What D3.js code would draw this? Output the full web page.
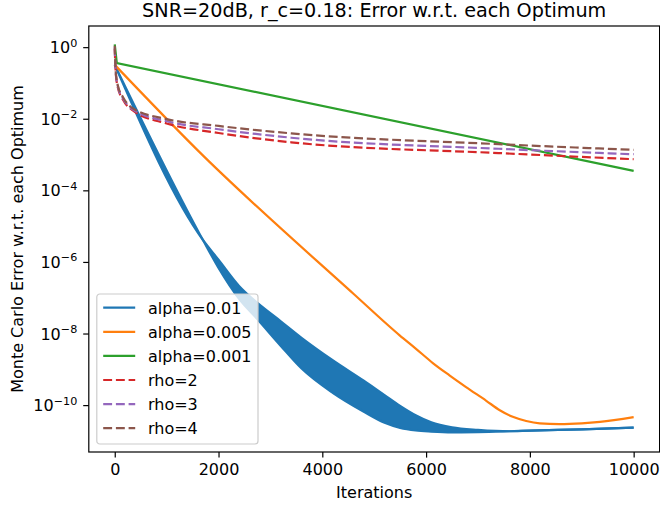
<!DOCTYPE html>
<html>
<head>
<meta charset="utf-8">
<script src="https://cdn.jsdelivr.net/npm/d3@7"></script>
<style>
  body { margin: 0; background: #fff; }
  svg { display: block; font-family: "DejaVu Sans", sans-serif; }
</style>
</head>
<body>
<div id="chart"></div>
<script>
// Tick values
const iterTicks = [0, 2000, 4000, 6000, 8000, 10000];
const errorTickExps = [0, -2, -4, -6, -8, -10];

// Legend labels, in plotting order
const seriesNames = ["alpha=0.01", "alpha=0.005", "alpha=0.001", "rho=2", "rho=3", "rho=4"];

// alpha=0.01 oscillates fast, so it is drawn as a band (upper / lower envelope)
const alpha01Iter  = [0, 1700, 2000, 2400, 2750, 3200, 3600, 4200, 4800, 5200, 5500, 5800, 6100, 6500, 7000, 7600, 8000, 9000, 10000];
const alpha01Upper = [0.32, 4.1e-6, 1.15e-6, 2.1e-7, 7.2e-8, 2.2e-8, 7.6e-9, 1.8e-9, 4.8e-10, 1.9e-10, 9.5e-11, 5.2e-11, 3.3e-11, 2.4e-11, 2.04e-11, 1.86e-11, 1.95e-11, 2.1e-11, 2.35e-11];
const alpha01Lower = [0.32, 4.1e-6, 6.8e-7, 9.1e-8, 2.5e-8, 4.5e-9, 1.05e-9, 2.2e-10, 6.5e-11, 3.2e-11, 2.3e-11, 1.95e-11, 1.82e-11, 1.74e-11, 1.76e-11, 1.86e-11, 1.95e-11, 2.1e-11, 2.35e-11];

const alpha005Iter = [0, 1590, 4600, 5490, 5800, 6130, 6450, 6770, 7160, 7420, 7670, 7930, 8190, 8570, 9000, 9350, 10000];
const alpha005Err  = [0.32, 1.35e-3, 1.29e-7, 8.9e-9, 3.8e-9, 1.5e-9, 6.8e-10, 3.2e-10, 1.32e-10, 7.2e-11, 4.7e-11, 3.6e-11, 3.1e-11, 2.95e-11, 3.1e-11, 3.4e-11, 4.6e-11];

const alpha001Iter = [0, 40, 10000];
const alpha001Err  = [1.2, 0.36, 3.5e-4];

const rhoIter = [0, 20, 60, 160, 360, 1000, 2000, 3400, 7400, 10000];
const rho2Err = [0.9, 0.18, 0.075, 0.034, 0.0166, 7.4e-3, 4.0e-3, 2.2e-3, 1.1e-3, 7.4e-4];
const rho3Err = [1.0, 0.19, 0.08, 0.037, 0.0178, 8.5e-3, 5.1e-3, 2.95e-3, 1.45e-3, 1.02e-3];
const rho4Err = [1.1, 0.2, 0.085, 0.04, 0.019, 9.8e-3, 6.3e-3, 3.9e-3, 1.95e-3, 1.35e-3];

const colors = ["#1f77b4", "#ff7f0e", "#2ca02c", "#d62728", "#9467bd", "#8c564b"];

// Dimensions and margins
const margin = { top: 26, right: 0.4, bottom: 55, left: 88.8 };
const width = 660 - margin.left - margin.right;
const height = 507 - margin.top - margin.bottom;

const svgRoot = d3.select("#chart")
  .append("svg")
  .attr("width", 660)
  .attr("height", 507);

const svg = svgRoot.append("g")
  .attr("transform", `translate(${margin.left},${margin.top})`);

// Scales
const x = d3.scaleLinear().domain([-500, 10500]).range([0, width]);
const y = d3.scaleLog().domain([4.9e-12, 3.9]).range([height, 0]);

svg.append("clipPath")
  .attr("id", "plot-clip")
  .append("rect")
  .attr("width", width)
  .attr("height", height);

const plot = svg.append("g").attr("clip-path", "url(#plot-clip)");

const zip = (iters, vals) => iters.map((it, i) => ({ iter: it, err: vals[i] }));

const line = d3.line()
  .x(d => x(d.iter))
  .y(d => y(d.err))
  .curve(d3.curveMonotoneX);

const straightLine = d3.line()
  .x(d => x(d.iter))
  .y(d => y(d.err));

// alpha=0.01 band
const bandData = alpha01Iter.map((it, i) => ({ iter: it, upper: alpha01Upper[i], lower: alpha01Lower[i] }));
plot.append("path")
  .datum(bandData)
  .attr("fill", colors[0])
  .attr("d", d3.area()
    .x(d => x(d.iter))
    .y0(d => y(d.lower))
    .y1(d => y(d.upper))
    .curve(d3.curveMonotoneX));

[alpha01Upper, alpha01Lower].forEach(vals => {
  plot.append("path")
    .datum(zip(alpha01Iter, vals))
    .attr("fill", "none")
    .attr("stroke", colors[0])
    .attr("stroke-width", 2.2)
    .attr("d", line);
});

// Solid lines
plot.append("path")
  .datum(zip(alpha005Iter, alpha005Err))
  .attr("fill", "none")
  .attr("stroke", colors[1])
  .attr("stroke-width", 2.2)
  .attr("d", line);

plot.append("path")
  .datum(zip(alpha001Iter, alpha001Err))
  .attr("fill", "none")
  .attr("stroke", colors[2])
  .attr("stroke-width", 2.2)
  .attr("d", straightLine);

// Dashed rho lines
[rho2Err, rho3Err, rho4Err].forEach((vals, i) => {
  plot.append("path")
    .datum(zip(rhoIter, vals))
    .attr("fill", "none")
    .attr("stroke", colors[3 + i])
    .attr("stroke-width", 2.2)
    .attr("stroke-dasharray", "8.9,3.8")
    .attr("d", line);
});

// X axis
const xAxis = svg.append("g")
  .attr("transform", `translate(0,${height})`)
  .call(d3.axisBottom(x).tickValues(iterTicks).tickSize(5.6).tickPadding(5.6).tickFormat(d3.format("d")));
xAxis.select(".domain").remove();
xAxis.selectAll("line").attr("stroke", "#000").attr("stroke-width", 1.2);
xAxis.selectAll("text")
  .attr("fill", "#000")
  .style("font-family", "DejaVu Sans")
  .style("font-size", "16px");

// Y axis with 10^n labels
const yAxis = svg.append("g")
  .call(d3.axisLeft(y).tickValues(errorTickExps.map(e => Math.pow(10, e))).tickSize(5.6).tickFormat(""));
yAxis.select(".domain").remove();
yAxis.selectAll("line").attr("stroke", "#000").attr("stroke-width", 1.2);

errorTickExps.forEach(e => {
  const t = svg.append("text")
    .attr("x", -11.5)
    .attr("y", y(Math.pow(10, e)) + 6)
    .attr("text-anchor", "end")
    .style("font-size", "16px")
    .attr("fill", "#000");
  t.append("tspan").text("10");
  t.append("tspan")
    .attr("dy", -6.5)
    .style("font-size", "11.2px")
    .text(e === 0 ? "0" : "\u2212" + Math.abs(e));
});

// Frame
svg.append("rect")
  .attr("width", width)
  .attr("height", height)
  .attr("fill", "none")
  .attr("stroke", "#000")
  .attr("stroke-width", 1.2);

// Legend
const legend = svg.append("g")
  .attr("transform", `translate(8,${height - 8 - 150})`);

legend.append("rect")
  .attr("width", 161.2)
  .attr("height", 150)
  .attr("rx", 3)
  .attr("fill", "#fff")
  .attr("fill-opacity", 0.8)
  .attr("stroke", "#cccccc")
  .attr("stroke-width", 1.2);

seriesNames.forEach((name, i) => {
  const cy = 13.7 + i * 24.1;
  legend.append("line")
    .attr("x1", 6.4)
    .attr("x2", 38.4)
    .attr("y1", cy)
    .attr("y2", cy)
    .attr("stroke", colors[i])
    .attr("stroke-width", 2.2)
    .attr("stroke-dasharray", i >= 3 ? "8.9,3.8" : null);
  legend.append("text")
    .attr("x", 51.2)
    .attr("y", cy + 5.8)
    .style("font-size", "16px")
    .attr("fill", "#000")
    .text(name);
});

// Title and axis captions
svgRoot.append("text")
  .attr("x", margin.left + width / 2)
  .attr("y", 17)
  .attr("text-anchor", "middle")
  .style("font-size", "19.2px")
  .attr("fill", "#000")
  .text("SNR=20dB, r_c=0.18: Error w.r.t. each Optimum");

svgRoot.append("text")
  .attr("x", margin.left + width / 2)
  .attr("y", 498)
  .attr("text-anchor", "middle")
  .style("font-size", "16px")
  .attr("fill", "#000")
  .text("Iterations");

svgRoot.append("text")
  .attr("transform", `translate(23,${margin.top + height / 2}) rotate(-90)`)
  .attr("text-anchor", "middle")
  .style("font-size", "16px")
  .attr("fill", "#000")
  .text("Monte Carlo Error w.r.t. each Optimum");
</script>
</body>
</html>
